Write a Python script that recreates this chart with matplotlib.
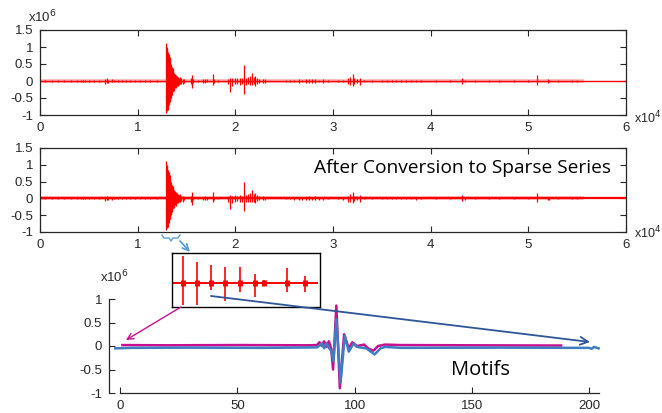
import matplotlib
matplotlib.use('Agg')
import matplotlib.pyplot as plt
from matplotlib.patches import FancyArrowPatch
from matplotlib.lines import Line2D

plt.rcParams['font.family'] = ['Liberation Sans', 'DejaVu Sans']

# seismic trace: burst position (x10^4 samples), upper and lower amplitude (x10^6)
burst_x = [0.05, 0.12, 0.18, 0.25, 0.32, 0.38, 0.42, 0.44, 0.46, 0.50, 0.55, 0.60,
           0.67, 0.69, 0.70, 0.74, 0.76, 0.80, 0.84, 0.88, 0.92, 0.97, 1.02, 1.08, 1.13, 1.20,
           1.295, 1.300, 1.305, 1.310, 1.315, 1.320, 1.325, 1.330, 1.335, 1.340, 1.345,
           1.350, 1.355, 1.360, 1.365, 1.370, 1.380, 1.390, 1.400, 1.410, 1.420, 1.430,
           1.440, 1.460, 1.475,
           1.55, 1.56, 1.57, 1.62, 1.67, 1.69, 1.71, 1.77, 1.78, 1.82,
           1.93, 1.95, 1.97, 2.00, 2.02, 2.05, 2.07, 2.09, 2.11, 2.13, 2.15, 2.17, 2.19,
           2.20, 2.22, 2.24, 2.28, 2.30,
           2.52, 2.56, 2.60, 2.65, 2.68, 2.72, 2.75, 2.78, 2.82, 2.86, 2.90, 2.95,
           3.05, 3.10, 3.15, 3.17, 3.20, 3.22, 3.25, 3.28, 3.32, 3.40, 3.50, 3.55, 3.60,
           3.65, 3.70, 3.75, 3.80, 3.85, 3.90, 4.05, 4.20, 4.32, 4.35, 4.45, 4.60, 4.70,
           4.85, 5.00, 5.09, 5.20, 5.21, 5.30, 5.45, 5.50]
burst_hi = [0.02, 0.02, 0.02, 0.03, 0.02, 0.03, 0.03, 0.02, 0.03, 0.02, 0.02, 0.02,
            0.05, 0.08, 0.04, 0.05, 0.03, 0.02, 0.03, 0.02, 0.03, 0.02, 0.03, 0.02, 0.03, 0.03,
            1.12, 0.95, 1.00, 0.85, 0.78, 0.80, 0.65, 0.70, 0.55, 0.50, 0.45,
            0.40, 0.35, 0.38, 0.30, 0.25, 0.22, 0.18, 0.15, 0.12, 0.10, 0.12,
            0.08, 0.06, 0.05,
            0.08, 0.18, 0.05, 0.02, 0.05, 0.06, 0.05, 0.20, 0.05, 0.02,
            0.05, 0.10, 0.08, 0.10, 0.08, 0.10, 0.08, 0.48, 0.10, 0.12, 0.15, 0.25, 0.12,
            0.15, 0.10, 0.06, 0.06, 0.05,
            0.03, 0.03, 0.04, 0.05, 0.04, 0.05, 0.06, 0.05, 0.06, 0.04, 0.05, 0.03,
            0.03, 0.04, 0.08, 0.12, 0.20, 0.08, 0.06, 0.10, 0.03, 0.02, 0.03, 0.02, 0.03,
            0.02, 0.03, 0.02, 0.03, 0.04, 0.03, 0.02, 0.02, 0.10, 0.04, 0.03, 0.02, 0.02,
            0.02, 0.02, 0.17, 0.05, 0.04, 0.02, 0.02, 0.02]
burst_lo = [-0.02, -0.02, -0.02, -0.03, -0.02, -0.03, -0.03, -0.02, -0.03, -0.02, -0.02, -0.02,
            -0.08, -0.06, -0.05, -0.04, -0.03, -0.02, -0.03, -0.02, -0.03, -0.02, -0.03, -0.02, -0.03, -0.03,
            -0.93, -0.88, -0.80, -0.85, -0.70, -0.72, -0.55, -0.60, -0.62, -0.45, -0.50,
            -0.35, -0.40, -0.30, -0.28, -0.30, -0.20, -0.22, -0.15, -0.14, -0.12, -0.10,
            -0.08, -0.10, -0.05,
            -0.10, -0.20, -0.06, -0.02, -0.05, -0.06, -0.04, -0.12, -0.05, -0.02,
            -0.10, -0.32, -0.15, -0.10, -0.08, -0.12, -0.10, -0.37, -0.12, -0.10, -0.12, -0.12, -0.10,
            -0.15, -0.08, -0.06, -0.06, -0.05,
            -0.03, -0.03, -0.04, -0.05, -0.04, -0.05, -0.06, -0.05, -0.06, -0.04, -0.05, -0.03,
            -0.03, -0.04, -0.10, -0.12, -0.15, -0.08, -0.06, -0.12, -0.03, -0.02, -0.03, -0.02, -0.03,
            -0.02, -0.03, -0.02, -0.03, -0.04, -0.03, -0.02, -0.02, -0.08, -0.04, -0.03, -0.02, -0.02,
            -0.02, -0.02, -0.12, -0.05, -0.04, -0.02, -0.02, -0.02]
trace_end = 6.0
noisy_end = 5.55

# zoomed window of the sparse series (arbitrary sample units)
zoom_x = [11, 25, 39, 53, 68, 83, 92, 115, 133]
zoom_hi = [1.10, 0.86, 0.73, 0.65, 0.65, 0.37, 0.10, 0.61, 0.29]
zoom_lo = [-0.90, -0.90, -0.29, -0.73, -0.37, -0.57, -0.10, -0.37, -0.37]
zoom_span = [1, 145]

# two matched motifs (x10^6)
motif1_x = [1, 20, 50, 80, 84, 85, 86, 87, 88, 89, 90, 90.8, 92.2, 93.7, 95.5, 97.5,
            99, 101, 104, 106, 108, 110, 113, 120, 150, 188]
motif1_y = [0.02, 0.015, 0.02, 0.015, 0.02, 0.08, 0.0, 0.10, -0.02, 0.10, -0.05, -0.50,
            0.86, -0.90, 0.25, -0.05, 0.08, 0.0, 0.03, -0.06, -0.10, 0.0, 0.03, 0.02, 0.015, 0.01]
motif2_x = [-2, 5, 30, 60, 84, 86, 87, 88, 89, 90, 91, 92.2, 94, 95.8, 97.5, 99.5, 101,
            105, 108.5, 111, 113, 120, 160, 200, 201, 202, 204]
motif2_y = [-0.05, -0.04, -0.035, -0.04, -0.03, 0.05, -0.05, 0.06, -0.04, -0.10, -0.32,
            0.57, -0.78, 0.22, -0.12, 0.05, -0.02, -0.05, -0.18, -0.05, -0.02, -0.04,
            -0.035, -0.04, -0.06, -0.02, -0.05]

W, H = 662, 413
def fx(px):
    return px / W
def fy(py):
    return 1 - py / H

fig = plt.figure(figsize=(6.62, 4.13), dpi=100)
dark = '#262626'

def style_trace(ax):
    ax.set_xlim(0, 6)
    ax.set_ylim(-1, 1.5)
    ax.set_xticks(range(7))
    ax.set_yticks([-1, -0.5, 0, 0.5, 1, 1.5])
    ax.set_yticklabels(['-1', '-0.5', '0', '0.5', '1', '1.5'])
    ax.tick_params(direction='in', top=True, right=True, length=4, width=0.8,
                   labelsize=9.5, colors=dark, pad=5)
    for s in ax.spines.values():
        s.set_color(dark)
        s.set_linewidth(0.9)

ax1 = fig.add_axes([fx(40), fy(115), fx(586), 85 / H])
ax2 = fig.add_axes([fx(40), fy(232), fx(586), 84 / H])
for ax, base_lw in [(ax1, 1.0), (ax2, 1.6)]:
    style_trace(ax)
    ax.plot([0, noisy_end], [0, 0], color='red', lw=2.6, alpha=0.3)
    ax.plot([0, trace_end], [0, 0], color='red', lw=base_lw)
    ax.vlines(burst_x, burst_lo, burst_hi, color='red', lw=0.9)

fig.text(fx(28), fy(17), 'x10$^6$', fontsize=9.5, color=dark, va='center')
fig.text(fx(634), fy(118), 'x10$^4$', fontsize=9, color=dark, va='center')
fig.text(fx(634), fy(233), 'x10$^4$', fontsize=9, color=dark, va='center')
fig.text(fx(611), fy(168), 'After Conversion to Sparse Series', fontsize=13.8,
         family='Open Sans', ha='right', va='center', color='black')

# motifs axes
ax3 = fig.add_axes([fx(109), fy(393), fx(601 - 109), 94 / H])
ax3.set_xlim(-4.69, 205)
ax3.set_ylim(-1, 1)
ax3.spines['top'].set_visible(False)
ax3.spines['right'].set_visible(False)
ax3.spines['bottom'].set_bounds(0, 204)
for s in ['left', 'bottom']:
    ax3.spines[s].set_color(dark)
    ax3.spines[s].set_linewidth(0.9)
ax3.set_xticks([0, 50, 100, 150, 200])
ax3.set_yticks([-1, -0.5, 0, 0.5, 1])
ax3.set_yticklabels(['-1', '-0.5', '0', '0.5', '1'])
ax3.tick_params(direction='in', length=4, width=0.8, labelsize=9.5, colors=dark, pad=5)
ax3.plot(motif1_x, motif1_y, color='#C8108E', lw=1.8, clip_on=False)
ax3.plot(motif2_x, motif2_y, color='#3D7EC3', lw=1.8, clip_on=False)
fig.text(fx(100), fy(277), 'x10$^6$', fontsize=9.5, color=dark, va='center')
fig.text(fx(451), fy(370), 'Motifs', fontsize=14.5, family='Open Sans',
         va='center', color='black')

# inset showing zoomed sparse segment
axi = fig.add_axes([fx(172), fy(307), fx(148), 54 / H])
axi.set_xlim(0, 148)
axi.set_ylim(-0.98, 1.22)
axi.set_xticks([])
axi.set_yticks([])
for s in axi.spines.values():
    s.set_color('black')
    s.set_linewidth(1.0)
axi.plot(zoom_span, [0, 0], color='red', lw=1.4)
axi.vlines(zoom_x, zoom_lo, zoom_hi, color='red', lw=1.2)
axi.vlines(zoom_x, -0.12, 0.12, color='red', lw=3.5)

# arrows
def arrow(p0, p1, color, lw=1.2, ms=12):
    a = FancyArrowPatch((fx(p0[0]), fy(p0[1])), (fx(p1[0]), fy(p1[1])),
                        transform=fig.transFigure, arrowstyle='->', color=color,
                        lw=lw, mutation_scale=ms, shrinkA=0, shrinkB=0)
    fig.add_artist(a)

arrow((211, 296), (590, 342), '#2E5597', lw=1.3, ms=14)
arrow((181, 307), (126, 340), '#C8108E', lw=1.0, ms=11)
arrow((180, 241), (190, 252), '#5B9BD5', lw=1.3, ms=11)

brace_px = [(162, 235), (164, 238), (169, 238), (171, 241), (173, 238), (178, 238), (180, 235)]
fig.add_artist(Line2D([fx(p[0]) for p in brace_px], [fy(p[1]) for p in brace_px],
                      color='#5B9BD5', lw=1.0, transform=fig.transFigure))

fig.savefig('out.png', dpi=100)
